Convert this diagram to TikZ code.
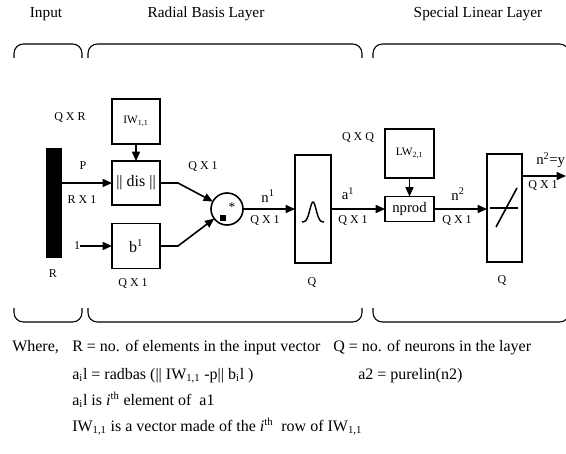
\documentclass[tikz,border=0pt]{standalone}
\usepackage{fontspec}
\setmainfont{Liberation Serif}
\usetikzlibrary{arrows.meta}
\tikzset{
  box/.style={draw, line width=1.2pt, inner sep=0pt, outer sep=0pt},
  arr/.style={line width=1.2pt, -{Triangle[length=7pt,width=6pt]}},
  wire/.style={line width=1.2pt},
  brk/.style={line width=0.8pt, rounded corners=7pt},
  lab/.style={font=\fontsize{9}{10}\selectfont, inner sep=0pt},
  sig/.style={font=\fontsize{11}{12}\selectfont, inner sep=0pt},
  big/.style={font=\fontsize{11.5}{13}\selectfont, inner sep=0pt},
  txt/.style={font=\fontsize{12}{14}\selectfont, inner sep=0pt, anchor=base west},
}
\begin{document}
\begin{tikzpicture}[x=0.75pt,y=-0.75pt]
\useasboundingbox (0,0) rectangle (566,453);
% titles
\node[big] (tin) at (46,14) {Input};
\node[big] (trb) at (206,14) {Radial Basis Layer};
\node[big] (tsl) at (478,14) {Special Linear Layer};
% top brackets
\draw[brk] (14,58) -- (14,44) -- (82,44) -- (82,58);
\draw[brk] (88,58) -- (88,44) -- (362,44) -- (362,58);
\draw[brk] (373,58) -- (373,44) -- (569,44) -- (569,58);
% bottom brackets
\draw[brk] (14,308) -- (14,322) -- (82,322) -- (82,308);
\draw[brk] (88,308) -- (88,322) -- (362,322) -- (362,308);
\draw[brk] (373,308) -- (373,322) -- (569,322) -- (569,308);
% input bar
\node[box, fill=black, minimum width=10.5pt, minimum height=81pt] (bar) at (54,203) {};
\node[lab] (qxr) at (70,117) {Q X R};
\node[lab] (plab) at (83,166) {P};
\node[lab] (rx1) at (82,200) {R X 1};
\node[lab] (rlab) at (53,274) {R};
% radial basis boxes
\node[box, minimum width=36pt, minimum height=33.75pt, font=\fontsize{8.5}{9}\selectfont] (iw) at (136,121.5) {IW\textsubscript{1,1}};
\node[box, minimum width=36pt, minimum height=33pt, font=\fontsize{12}{13}\selectfont] (dis) at (136,183) {|| dis ||};
\node[box, minimum width=36pt, minimum height=33.75pt, font=\fontsize{12}{13}\selectfont] (b) at (136,246) {b\textsuperscript{1}};
\node[lab] (one) at (77,246) {1};
\node[lab] (qb) at (133,283) {Q X 1};
\node[lab] (qd) at (203,166) {Q X 1};
\draw[arr] (iw) -- (dis);
\draw[arr] (bar.east |- dis.west) -- (dis.west);
\draw[arr] (one) -- (b);
% product circle
\node[draw, circle, line width=1.2pt, minimum size=24pt, inner sep=0pt, outer sep=0pt] (c) at (227,209) {};
\node[font=\fontsize{10}{12}\selectfont, inner sep=0pt] (star) at (232,207) {*};
\node[fill=black, minimum size=4.5pt, inner sep=0pt] (sq) at (223,218) {};
\draw[arr] (dis.east) -- ++(18,0) -- (c);
\draw[arr] (b.east) -- ++(18,0) -- (c);
% radbas
\node[box, minimum width=27pt, minimum height=81pt] (rb) at (313,209) {};
\draw[line width=1.1pt] plot[domain=-11:11, samples=60] ({313+\x}, {222-20*exp(-(\x/4.5)^2)});
\draw[arr] (c.east) -- (c.east -| rb.west);
\node[sig] (n1) at (268,196) {n\textsuperscript{1}};
\node[lab] (qn1) at (265,220) {Q X 1};
\node[lab] (qrb) at (312,282) {Q};
% linear layer
\node[box, minimum width=36.75pt, minimum height=18.75pt, font=\fontsize{11}{12}\selectfont] (np) at (409.5,209) {nprod};
\node[box, minimum width=36.75pt, minimum height=36.75pt, font=\fontsize{8.5}{9}\selectfont] (lw) at (409.5,153.5) {LW\textsubscript{2,1}};
\draw[arr] (lw) -- (np);
\draw[arr] (rb.east |- np.west) -- (np.west);
\node[sig] (a1) at (348,194) {a\textsuperscript{1}};
\node[lab] (qa1) at (353,220) {Q X 1};
\node[lab] (qxq) at (358,137) {Q X Q};
% purelin
\node[box, minimum width=26.25pt, minimum height=81pt] (pl) at (504.5,208) {};
\draw[wire] (490,208) -- (518,208);
\draw[wire] (496,227) -- (517,188);
\draw[arr] (np.east) -- (np.east -| pl.west);
\node[sig] (n2) at (458,194) {n\textsuperscript{2}};
\node[lab] (qn2) at (457,220) {Q X 1};
\node[lab] (qpl) at (502,280) {Q};
\coordinate (out) at (566,176);
\draw[arr] (pl.east |- out) -- (out);
\node[sig, anchor=west] (ny) at (536,160) {n\textsuperscript{2}=y};
\node[lab] (qout) at (543,185) {Q X 1};
% legend
\node[txt] (wh) at (12,351) {Where,};
\node[txt] (l1) at (72,351) {R = no. of elements in the input vector};
\node[txt] (l1b) at (333,351) {Q = no. of neurons in the layer};
\node[txt] (l2) at (72,379) {a\textsubscript{i}l = radbas (|| IW\textsubscript{1,1} -p|| b\textsubscript{i}l )};
\node[txt] (l2b) at (358,379) {a2 = purelin(n2)};
\node[txt] (l3) at (72,405) {a\textsubscript{i}l is \textit{i}\textsuperscript{th} element of~ a1};
\node[txt] (l4) at (72,431) {IW\textsubscript{1,1} is a vector made of the \textit{i}\textsuperscript{th}~ row of IW\textsubscript{1,1}};
\end{tikzpicture}
\end{document}
